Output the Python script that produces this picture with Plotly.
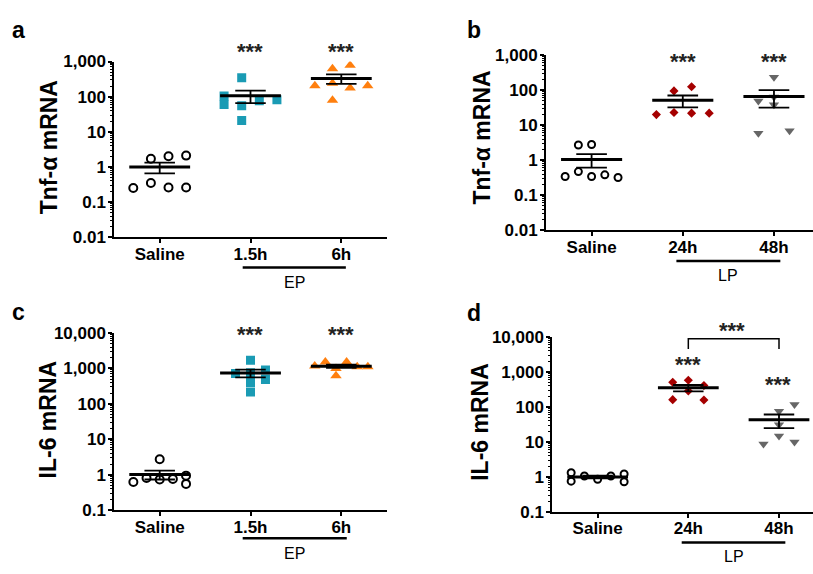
import numpy as np
import plotly.graph_objects as go

W, H = 813, 574

# ---------------- data ----------------
ep_categories = ["Saline", "1.5h", "6h"]
lp_categories = ["Saline", "24h", "48h"]

# panel a: Tnf-alpha mRNA, EP
a_saline = [0.25, 0.35, 0.26, 0.26, 1.7, 2.0, 2.1]
a_ep_1_5h = [347, 104, 60, 55, 21, 76, 81]
a_ep_6h = [205, 625, 242, 776, 176, 205, 79]
# panel b: Tnf-alpha mRNA, LP
b_saline = [0.34, 0.47, 0.34, 0.38, 0.32, 2.7, 2.8]
b_lp_24h = [20, 95, 23, 125, 22, 22]
b_lp_48h = [232, 49, 64, 38, 5.9, 6.9]
# panel c: IL-6 mRNA, EP
c_saline = [0.62, 0.81, 0.73, 0.76, 0.94, 0.55, 2.73]
c_ep_1_5h = [716, 1700, 752, 402, 214, 903, 482]
c_ep_6h = [1161, 1521, 998, 620, 1521, 1112, 1112]
# panel d: IL-6 mRNA, LP
d_saline = [1.3, 0.75, 1.05, 0.85, 1.05, 1.2, 0.72]
d_lp_24h = [503, 571, 407, 284, 160, 157]
d_lp_48h = [74.6, 116, 30.6, 14.6, 8.6, 9.9]

tnf_tick_vals = [0.01, 0.1, 1, 10, 100, 1000]
tnf_tick_text = ["0.01", "0.1", "1", "10", "100", "1,000"]
il6_tick_vals = [0.1, 1, 10, 100, 1000, 10000]
il6_tick_text = ["0.1", "1", "10", "100", "1,000", "10,000"]

# ---------------- layout helpers (positions / styles) ----------------
FONT = "Arial, 'Liberation Sans', Helvetica, sans-serif"


def px_x(p):
    return p / W


def px_y(p):
    return 1 - p / H


STYLE = {
    "saline": dict(symbol="circle-open", color="black", line=dict(color="black", width=2)),
    "ep15": dict(symbol="square", color="#1a9bb4", line=dict(width=0)),
    "ep6": dict(symbol="triangle-up", color="#ff7f0e", line=dict(width=0)),
    "lp24": dict(symbol="diamond", color="#a50000", line=dict(width=0)),
    "lp48": dict(symbol="triangle-down", color="#666666", line=dict(width=0)),
}

# horizontal scatter lanes for each dot (layout only)
panels = [
    dict(key="a", title="Tnf-α mRNA", cats=ep_categories, group="EP",
         box=(114.3, 386.7, 54.3, 236.0), xr=[-0.5, 2.5], yr=[-2, 3],
         ticks=(tnf_tick_vals, tnf_tick_text),
         groups=[(a_saline, "saline", [-1.5, -0.5, 0.5, 1.5, -0.5, 0.5, 1.5], 0.194, 8),
                 (a_ep_1_5h, "ep15", [-0.5, -1.5, -1.5, -0.5, -0.5, 0.5, 1.5], 0.194, 9),
                 (a_ep_6h, "ep6", [-1.5, -0.5, -0.5, 0.5, 0.5, 1.5, -0.5], 0.194, 10)],
         letter=(18.5, 21.5), ytitle=(49, 143), stars=[(1, 40), (2, 40)],
         gline=(0.914, 2.05, 267.3), glabel=282.7),
    dict(key="b", title="Tnf-α mRNA", cats=lp_categories, group="LP",
         box=(546.0, 813.0, 47.7, 228.7), xr=[-0.5, 2.428], yr=[-2, 3],
         ticks=(tnf_tick_vals, tnf_tick_text),
         groups=[(b_saline, "saline", [-2, -1, 0, 1, 2, -1, 0], 0.145, 7),
                 (b_lp_24h, "lp24", [-1.5, -0.5, -0.5, 0.5, 0.5, 1.5], 0.193, 7),
                 (b_lp_48h, "lp48", [0, -1, 0, 0, -1, 1], 0.171, 9)],
         letter=(473.5, 21.5), ytitle=(481.7, 133.3), stars=[(1, 50.3), (2, 50.3)],
         gline=(0.93, 2.07, 260.7), glabel=276),
    dict(key="c", title="IL-6 mRNA", cats=ep_categories, group="EP",
         box=(114.3, 386.7, 335.0, 518.3), xr=[-0.5, 2.5], yr=[-1, 4],
         ticks=(il6_tick_vals, il6_tick_text),
         groups=[(c_saline, "saline", [-2, -1, 0, 1, 2, 2, 0], 0.145, 8),
                 (c_ep_1_5h, "ep15", [-1, 0, 0, 0, 0, 1, 1], 0.165, 9),
                 (c_ep_6h, "ep6", [-2.5, -1.5, -0.5, -0.5, 0.5, 1.5, 2.5], 0.117, 10)],
         letter=(18.5, 313.7), ytitle=(47.5, 425), stars=[(1, 333.3), (2, 333.3)],
         gline=(0.914, 2.06, 547.3), glabel=562.7),
    dict(key="d", title="IL-6 mRNA", cats=lp_categories, group="LP",
         box=(552.3, 813.0, 339.0, 520.0), xr=[-0.5, 2.375], yr=[-1, 4],
         ticks=(il6_tick_vals, il6_tick_text),
         groups=[(d_saline, "saline", [-2, -2, -1, 0, 1, 2, 2], 0.146, 7),
                 (d_lp_24h, "lp24", [-1, 0, 1, 0, -1, 1], 0.172, 7),
                 (d_lp_48h, "lp48", [0, 1, 0, 0, -1, 1], 0.171, 9)],
         letter=(473.5, 314.3), ytitle=(479.2, 426.7),
         stars=[(1, 364.5), (1.99, 384.8), (1.48, 328.8)],
         gline=(0.927, 2.07, 551.7), glabel=566),
]

MEAN_HALF = 0.335
CAP_HALF = 0.168
STAR_FS = 22
STAR_SHIFT = 3.5  # px, asterisks sit high in their text box

fig = go.Figure()
layout = dict(width=W, height=H, margin=dict(l=0, r=0, t=0, b=0),
              paper_bgcolor="white", plot_bgcolor="white", showlegend=False,
              font=dict(family=FONT, color="black"))
annotations = []
shapes = []

for k, p in enumerate(panels, start=1):
    xs = "" if k == 1 else str(k)
    xa, ya = "x" + xs, "y" + xs
    xl, xr_, yt, yb = p["box"]
    lo, hi = p["yr"]
    minor_vals = [m * 10.0 ** d for d in range(lo, hi) for m in range(2, 10)]
    layout["xaxis" + xs] = dict(
        domain=[px_x(xl), px_x(xr_)], range=p["xr"], anchor=ya,
        tickmode="array", tickvals=[0, 1, 2], ticktext=p["cats"],
        ticks="outside", ticklen=4, tickwidth=2, tickcolor="black",
        ticklabelstandoff=-4,
        showline=True, linewidth=2, linecolor="black",
        showgrid=False, zeroline=False, fixedrange=True,
        tickfont=dict(family=FONT, size=17, weight="bold", color="black"))
    layout["yaxis" + xs] = dict(
        type="log", domain=[px_y(yb), px_y(yt)], range=[lo, hi], anchor=xa,
        tickmode="array", tickvals=p["ticks"][0], ticktext=p["ticks"][1],
        ticks="outside", ticklen=4, tickwidth=2, tickcolor="black",
        ticklabelstandoff=-1,
        minor=dict(tickmode="array", tickvals=minor_vals, ticks="outside",
                   ticklen=2.5, tickwidth=1, tickcolor="black", showgrid=False),
        showline=True, linewidth=2, linecolor="black",
        showgrid=False, zeroline=False, fixedrange=True,
        tickfont=dict(family=FONT, size=17, weight="bold", color="black"))

    for i, (vals, sty, lanes, unit, msize) in enumerate(p["groups"]):
        v = np.array(vals, dtype=float)
        x = i + np.array(lanes, dtype=float) * unit
        st = STYLE[sty]
        fig.add_trace(go.Scatter(
            x=x, y=v, mode="markers", xaxis=xa, yaxis=ya, hoverinfo="y",
            marker=dict(symbol=st["symbol"], size=msize, color=st["color"],
                        line=st["line"])))
    for i, (vals, sty, lanes, unit, msize) in enumerate(p["groups"]):
        v = np.array(vals, dtype=float)
        m = v.mean()
        sem = v.std(ddof=1) / np.sqrt(len(v))
        fig.add_trace(go.Scatter(
            x=[i - MEAN_HALF, i + MEAN_HALF], y=[m, m], mode="lines",
            xaxis=xa, yaxis=ya, hoverinfo="skip",
            line=dict(color="black", width=3)))
        fig.add_trace(go.Scatter(
            x=[i, i, None, i - CAP_HALF, i + CAP_HALF, None, i - CAP_HALF, i + CAP_HALF],
            y=[m - sem, m + sem, None, m + sem, m + sem, None, m - sem, m - sem],
            mode="lines", xaxis=xa, yaxis=ya, hoverinfo="skip",
            line=dict(color="black", width=1.8)))

    # panel letter
    annotations.append(dict(text="<b>%s</b>" % p["key"], x=px_x(p["letter"][0]),
                            y=px_y(p["letter"][1]), xref="paper", yref="paper",
                            xanchor="center", yanchor="middle", showarrow=False,
                            font=dict(family=FONT, size=23, color="black")))
    # y title
    annotations.append(dict(text="<b>%s</b>" % p["title"], x=px_x(p["ytitle"][0]),
                            y=px_y(p["ytitle"][1]), xref="paper", yref="paper",
                            textangle=-90, xanchor="center", yanchor="middle",
                            showarrow=False, font=dict(family=FONT, size=23, color="black")))
    # significance stars
    for sx, sy in p["stars"]:
        annotations.append(dict(text="<b>***</b>", x=sx, xref=xa,
                                y=px_y(sy + STAR_SHIFT), yref="paper",
                                xanchor="center", yanchor="middle", showarrow=False,
                                font=dict(family=FONT, size=STAR_FS, color="#222222")))
    # group bar + label
    g0, g1, gy = p["gline"]
    shapes.append(dict(type="line", xref=xa, yref="paper", x0=g0, x1=g1,
                       y0=px_y(gy), y1=px_y(gy), line=dict(color="black", width=2.5)))
    annotations.append(dict(text=p["group"], x=(g0 + g1) / 2, xref=xa,
                            y=px_y(p["glabel"]), yref="paper", xanchor="center",
                            yanchor="middle", showarrow=False,
                            font=dict(family=FONT, size=16, color="black")))

# bracket between 24h and 48h in panel d
shapes.append(dict(type="path", xref="x4", yref="paper",
                   path="M 1,%f L 1,%f L 2,%f L 2,%f" % (px_y(351.7), px_y(341), px_y(341), px_y(351.7)),
                   line=dict(color="black", width=1.5)))

layout["annotations"] = annotations
layout["shapes"] = shapes
fig.update_layout(**layout)
fig.write_html("out.html")
